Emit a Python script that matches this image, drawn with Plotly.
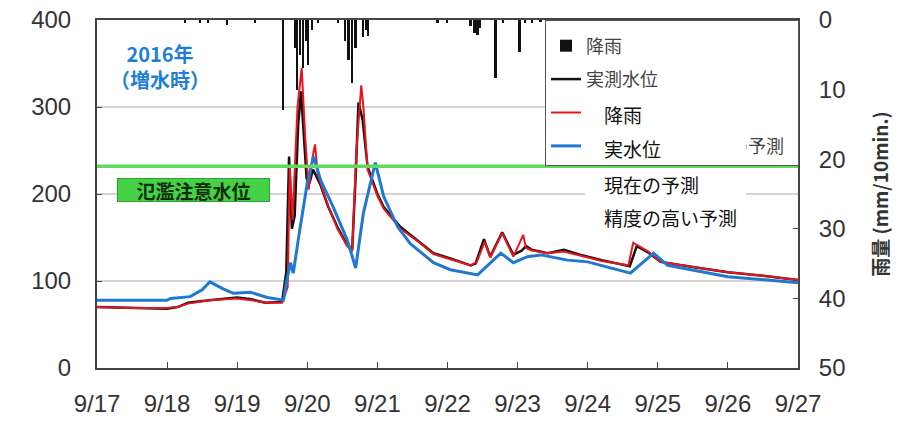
import plotly.graph_objects as go

# ---- data (x in days since 9/17) ----
x_tickvals = [0, 1, 2, 3, 4, 5, 6, 7, 8, 9, 10]
x_ticktext = ["9/17", "9/18", "9/19", "9/20", "9/21", "9/22", "9/23", "9/24", "9/25", "9/26", "9/27"]

rain_day = [1.26, 1.47, 1.59, 1.86, 2.26, 2.66, 2.83, 2.86, 2.90, 2.94, 2.99, 3.01, 3.07, 3.16, 3.44,
            3.54, 3.59, 3.64, 3.69, 3.80, 3.84, 3.87, 4.86, 5.0, 5.33, 5.39, 5.43, 5.47, 5.69, 5.8,
            6.03, 6.11, 6.21, 6.33]
rain_mm = [0.5, 0.4, 0.5, 0.7, 0.5, 12.9, 4, 10.0, 5, 6.9, 3, 6.5, 1.5, 0.4, 0.5,
           3, 5.7, 9.0, 4, 2.4, 1.5, 2.3, 0.5, 0.5, 0.8, 1.8, 2.2, 1.2, 8.4, 0.5,
           4.6, 0.5, 0.4, 0.3]

obs_day = [0, 0.5, 1.0, 1.15, 1.3, 1.6, 2.0, 2.2, 2.4, 2.64,
           2.70, 2.74, 2.78, 2.82, 2.87, 2.91, 2.95, 2.99, 3.03, 3.08,
           3.12, 3.19, 3.3, 3.43, 3.57, 3.64, 3.69, 3.73, 3.79, 3.86,
           4.0, 4.09, 4.33, 4.57, 4.80, 5.04, 5.33, 5.40, 5.52, 5.61,
           5.78, 5.94, 6.06, 6.12, 6.2, 6.43, 6.66, 6.9, 7.2, 7.6,
           7.7, 7.86, 8.04, 8.5, 9.0, 9.5, 10]
obs_val = [70, 69, 68, 70, 75, 78, 81, 79, 75, 76,
           110, 243, 160, 175, 280, 318, 262, 218, 212, 228,
           222, 210, 185, 162, 141, 136, 220, 305, 285, 231,
           200, 185, 162, 147, 132, 126, 118, 120, 148, 128,
           156, 130, 135, 140, 136, 132, 136, 130, 124, 117,
           140, 133, 122, 116, 110, 106, 101]

pred_day = [0, 0.5, 1.0, 1.15, 1.3, 1.6, 2.0, 2.2, 2.4, 2.64,
            2.72, 2.75, 2.79, 2.86, 2.92, 2.97, 3.02, 3.07, 3.11, 3.15,
            3.19, 3.3, 3.43, 3.57, 3.64, 3.70, 3.77, 3.80, 3.86, 4.0,
            4.09, 4.33, 4.57, 4.80, 5.04, 5.33, 5.42, 5.53, 5.61, 5.78,
            5.94, 6.08, 6.12, 6.2, 6.43, 6.66, 6.9, 7.2, 7.58, 7.65,
            7.86, 8.04, 8.5, 9.0, 9.5, 10]
pred_val = [70, 69, 69, 70, 74, 78, 80, 78, 75, 75,
            93, 230, 170, 300, 345, 265, 205, 240, 257, 222,
            212, 186, 160, 140, 134, 250, 325, 300, 228, 198,
            183, 160, 146, 131, 125, 118, 122, 145, 127, 155,
            128, 153, 138, 135, 132, 134, 129, 123, 118, 144,
            134, 122, 116, 110, 106, 101]

hp_day = [0, 1.0, 1.05, 1.33, 1.5, 1.61, 1.8, 1.94, 2.19, 2.43,
          2.66, 2.70, 2.76, 2.80, 2.87, 3.0, 3.09, 3.19, 3.37, 3.57,
          3.69, 3.80, 3.97, 4.09, 4.29, 4.47, 4.80, 5.04, 5.43, 5.76,
          5.94, 6.14, 6.33, 6.71, 7.0, 7.61, 7.94, 8.14, 9.0, 10]
hp_val = [78, 78, 80, 82, 90, 99, 91, 86, 87, 81,
          78, 98, 121, 109, 147, 213, 243, 216, 185, 147,
          115, 178, 236, 197, 162, 143, 121, 113, 107, 132,
          121, 128, 130, 124, 122, 109, 132, 118, 105, 98]

warning_level = 232
overlay_labels = ["降雨", "実水位", "現在の予測", "精度の高い予測"]

FONT = "Liberation Sans, Arial, sans-serif"
JP = "Noto Sans CJK JP, sans-serif"

# page body has an 8px default margin -> figure drawn 8px smaller and offset
W, H = 913, 413
PL, PT, PR, PB = 97 - 8, 20 - 8, 798 - 8, 368 - 8   # plot-area edges in figure px


def px(xp):   # reference x pixel -> paper
    return (xp - 97) / (798 - 97)


def py(yp):   # reference y pixel -> paper
    return (368 - yp) / (368 - 20)


fig = go.Figure()
fig.add_trace(go.Bar(x=rain_day, y=rain_mm, base=0, width=0.025, yaxis="y2",
                     marker=dict(color="#111111", line=dict(width=0)),
                     name="降雨", legendgroup="a"))
fig.add_trace(go.Scatter(x=obs_day, y=obs_val, mode="lines", line=dict(color="#111111", width=2.5),
                         name="実測水位", legendgroup="b"))
fig.add_trace(go.Scatter(x=pred_day, y=pred_val, mode="lines", line=dict(color="#e8151c", width=2),
                         name="現在の予測", legendgroup="c"))
fig.add_trace(go.Scatter(x=hp_day, y=hp_val, mode="lines", line=dict(color="#1f78d1", width=3),
                         name="精度の高い実水位の予測\u2002", legendgroup="d"))

# warning level line
fig.add_shape(type="line", xref="paper", x0=0, x1=1, yref="y", y0=warning_level, y1=warning_level,
              line=dict(color="#5fda5f", width=3.5), layer="above")

ann = []
# overlay white text rows
rows = [(96, 37), (133, 31), (168, 33), (201, 33)]
for lab, (top, h) in zip(overlay_labels, rows):
    ann.append(dict(xref="paper", yref="paper", x=px(585), y=py(top),
                    xanchor="left", yanchor="top", width=161, height=h, align="left",
                    text="\u3000" + lab, showarrow=False, bgcolor="white",
                    borderpad=0, borderwidth=0, font=dict(family=JP, size=19, color="#111")))
ann.append(dict(xref="paper", yref="paper", x=px(160), y=py(66),
                xanchor="center", yanchor="middle",
                text="<b>2016年<br>（増水時）</b>", showarrow=False,
                font=dict(family=JP, size=20, color="#1f7fd6")))
ann.append(dict(xref="paper", yref="paper", x=px(193.5), y=py(190),
                xanchor="center", yanchor="middle",
                text="<b>氾濫注意水位</b>", showarrow=False, width=151, height=22,
                bgcolor="#46d246", bordercolor="#2e9e2e", borderwidth=1, borderpad=0,
                font=dict(family=JP, size=19, color="#0c2e0c")))

fig.update_layout(
    width=W, height=H,
    margin=dict(l=PL, r=W - PR, t=PT, b=H - PB, autoexpand=False),
    paper_bgcolor="white", plot_bgcolor="white",
    bargap=0,
    showlegend=True,
    legend=dict(x=px(545), y=1, xanchor="left", yanchor="top",
                bgcolor="white", bordercolor="#555", borderwidth=1,
                font=dict(family=JP, size=18, color="#444"), tracegroupgap=7,
                traceorder="grouped",
                title=dict(text=" ", font=dict(size=5))),
    xaxis=dict(range=[0, 10], tickvals=x_tickvals, ticktext=x_ticktext, automargin=False,
               ticks="inside", ticklen=6, tickcolor="#444", showgrid=False,
               showline=True, linecolor="#444", linewidth=2, mirror=True, zeroline=False,
               ticklabeloverflow="allow",
               tickfont=dict(family=FONT, size=24, color="#333"), ticklabelstandoff=13),
    yaxis=dict(range=[0, 400], tickvals=[0, 100, 200, 300, 400], automargin=False,
               ticks="inside", ticklen=5, tickcolor="#444", showgrid=True, gridcolor="#d4d4d4",
               gridwidth=1.5, showline=True, linecolor="#444", linewidth=2, zeroline=False,
               ticklabeloverflow="allow",
               tickfont=dict(family=FONT, size=24, color="#333"), ticklabelstandoff=19),
    yaxis2=dict(range=[50, 0], overlaying="y", side="right", tickvals=[0, 10, 20, 30, 40, 50],
                automargin=False, ticklabeloverflow="allow",
                ticks="inside", ticklen=5, tickcolor="#444", showgrid=False,
                showline=True, linecolor="#444", linewidth=2, zeroline=False,
                tickfont=dict(family=FONT, size=24, color="#333"), ticklabelstandoff=14,
                title=dict(text="<b>雨量 (mm/10min.)</b>", font=dict(family=JP, size=19, color="#333"),
                           standoff=30)),
    annotations=ann,
)

fig.write_html("out.html")
